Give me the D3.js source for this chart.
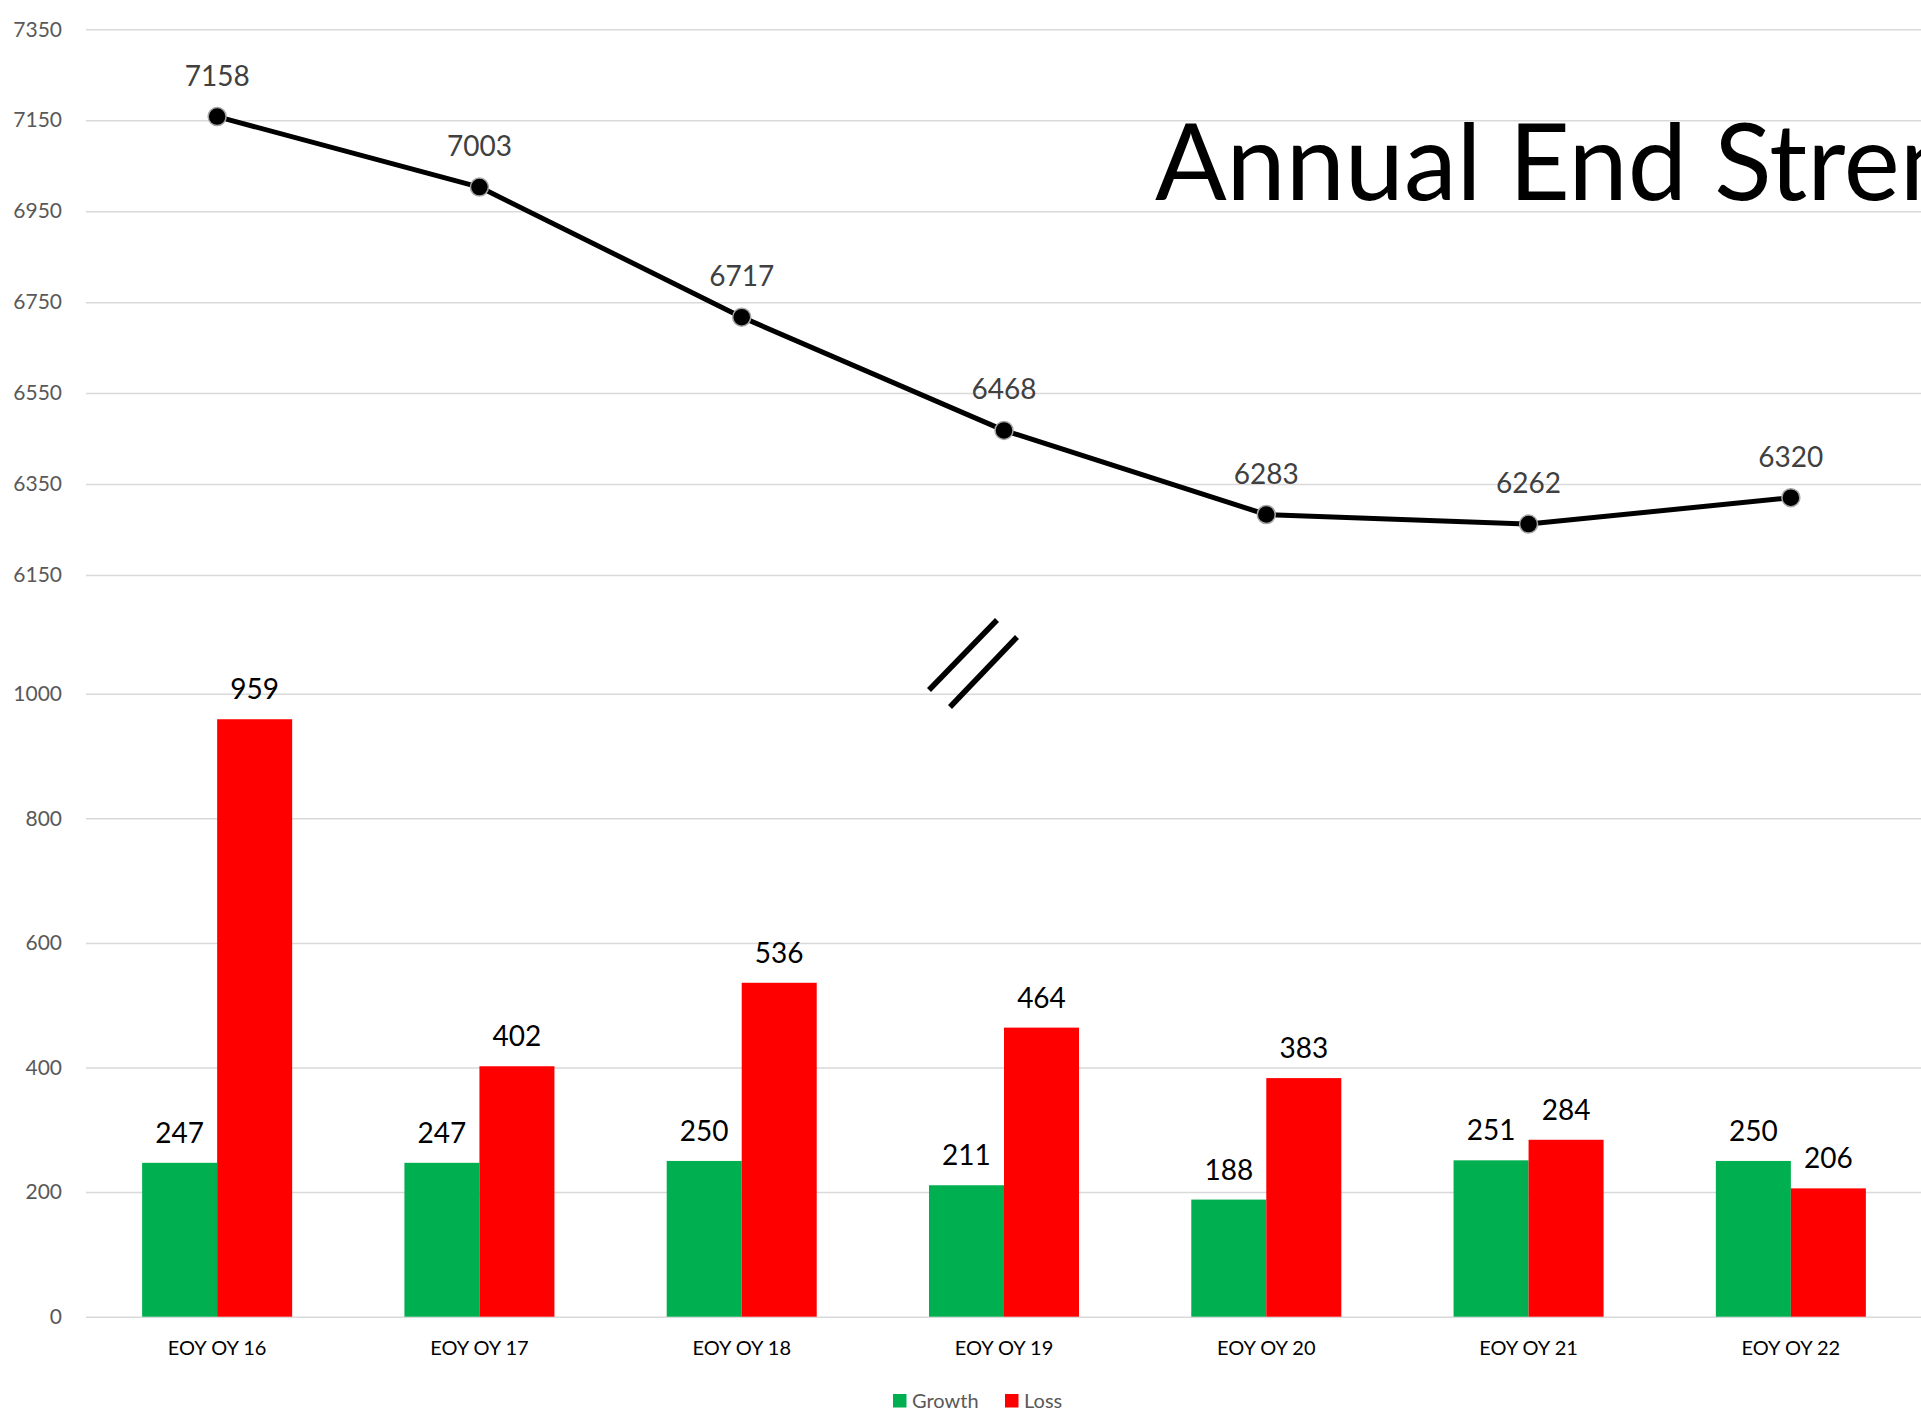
<!DOCTYPE html>
<html>
<head>
<meta charset="utf-8">
<script src="https://cdn.jsdelivr.net/npm/d3@7"></script>
<style>
  body { margin: 0; background: #fff; overflow: hidden; }
  svg { display: block; font-family: Lato, "Open Sans", sans-serif; }
</style>
</head>
<body>
<svg></svg>
<script>
var categories = ["EOY OY 16", "EOY OY 17", "EOY OY 18", "EOY OY 19", "EOY OY 20", "EOY OY 21", "EOY OY 22"];
var strength = [7158, 7003, 6717, 6468, 6283, 6262, 6320];
var growth = [247, 247, 250, 211, 188, 251, 250];
var loss = [959, 402, 536, 464, 383, 284, 206];
var series = ["Growth", "Loss"];
var topTicks = [6150, 6350, 6550, 6750, 6950, 7150, 7350];
var bottomTicks = [0, 200, 400, 600, 800, 1000];

var width = 1921, height = 1411;
var left = 86, right = 1922;

var svg = d3.select("svg")
    .attr("width", width)
    .attr("height", height);

var color = d3.scaleOrdinal().domain(series).range(["#00b050", "#ff0000"]);

var x0 = d3.scaleBand()
    .domain(categories)
    .range([left, right])
    .paddingInner(0.428)
    .paddingOuter(0.214);

var x1 = d3.scaleBand()
    .domain(series)
    .range([0, x0.bandwidth()]);

var yTop = d3.scaleLinear().domain([6150, 7350]).range([575, 29.3]);
var yBot = d3.scaleLinear().domain([0, 1000]).range([1316.7, 693.7]);

// gridlines + tick labels
function drawAxis(scale, ticks) {
  var ax = d3.axisLeft(scale)
      .tickValues(ticks)
      .tickSize(-(right - left))
      .tickPadding(24)
      .tickFormat(d3.format("d"));
  var g = svg.append("g")
      .attr("transform", "translate(" + left + ",0)")
      .call(ax);
  g.select(".domain").remove();
  g.selectAll(".tick line").attr("stroke", "#d9d9d9").attr("stroke-width", 1.5);
  g.selectAll(".tick text")
      .attr("fill", "#595959")
      .style("font-size", "21px")
      .style("font-family", "Lato, sans-serif");
}
drawAxis(yTop, topTicks);
drawAxis(yBot, bottomTicks);

// title (cut off at the right edge, as in the original)
svg.append("text")
    .attr("x", 1155)
    .attr("y", 200)
    .style("font-size", "106px")
    .attr("fill", "#000")
    .text("Annual End Strength");

// line
var cx = function(d, i) { return x0(categories[i]) + x0.bandwidth() / 2; };

svg.append("path")
    .datum(strength)
    .attr("fill", "none")
    .attr("stroke", "#000")
    .attr("stroke-width", 5)
    .attr("stroke-linejoin", "round")
    .attr("d", d3.line().x(cx).y(function(d) { return yTop(d); }));

svg.selectAll(".pt")
    .data(strength)
  .enter().append("circle")
    .attr("class", "pt")
    .attr("cx", cx)
    .attr("cy", function(d) { return yTop(d); })
    .attr("r", 9)
    .attr("fill", "#000")
    .attr("stroke", "#a6a6a6")
    .attr("stroke-width", 1.5);

svg.selectAll(".ptlabel")
    .data(strength)
  .enter().append("text")
    .attr("class", "ptlabel")
    .attr("x", cx)
    .attr("y", function(d) { return yTop(d) - 31; })
    .attr("text-anchor", "middle")
    .attr("fill", "#404040")
    .style("font-size", "28px")
    .text(function(d) { return d; });

// bars
var rows = categories.map(function(c, i) {
  return { cat: c, values: [{ key: "Growth", v: growth[i] }, { key: "Loss", v: loss[i] }] };
});

var groups = svg.selectAll(".grp")
    .data(rows)
  .enter().append("g")
    .attr("class", "grp")
    .attr("transform", function(d) { return "translate(" + x0(d.cat) + ",0)"; });

groups.selectAll("rect")
    .data(function(d) { return d.values; })
  .enter().append("rect")
    .attr("x", function(d) { return x1(d.key); })
    .attr("width", x1.bandwidth())
    .attr("y", function(d) { return yBot(d.v); })
    .attr("height", function(d) { return yBot(0) - yBot(d.v); })
    .attr("fill", function(d) { return color(d.key); });

groups.selectAll(".blabel")
    .data(function(d) { return d.values; })
  .enter().append("text")
    .attr("class", "blabel")
    .attr("x", function(d) { return x1(d.key) + x1.bandwidth() / 2; })
    .attr("y", function(d) { return yBot(d.v) - 20; })
    .attr("text-anchor", "middle")
    .attr("fill", "#000")
    .style("font-size", "28px")
    .text(function(d) { return d.v; });

// x axis labels
var xAxis = d3.axisBottom(x0).tickSize(0).tickPadding(24);
var xg = svg.append("g")
    .attr("transform", "translate(0," + yBot(0) + ")")
    .call(xAxis);
xg.select(".domain").remove();
xg.selectAll(".tick text")
    .attr("fill", "#000")
    .style("font-size", "20px")
    .style("font-family", "Lato, sans-serif");

// axis break mark
var bx = x0("EOY OY 19") + x0.bandwidth() / 2 - 41;
var by = 663;
[[-34, 27, 34, -43], [-13, 44, 54, -26]].forEach(function(s) {
  svg.append("line")
      .attr("x1", bx + s[0]).attr("y1", by + s[1])
      .attr("x2", bx + s[2]).attr("y2", by + s[3])
      .attr("stroke", "#000")
      .attr("stroke-width", 5.5);
});

// legend
var legend = svg.append("g").attr("transform", "translate(893,1394)");
var item = legend.selectAll("g")
    .data(series)
  .enter().append("g")
    .attr("transform", function(d, i) { return "translate(" + (i * 112) + ",0)"; });
item.append("rect")
    .attr("width", 13.5)
    .attr("height", 13.5)
    .attr("fill", function(d) { return color(d); });
item.append("text")
    .attr("x", 19)
    .attr("y", 14)
    .attr("fill", "#595959")
    .style("font-size", "20px")
    .text(function(d) { return d; });
</script>
</body>
</html>
